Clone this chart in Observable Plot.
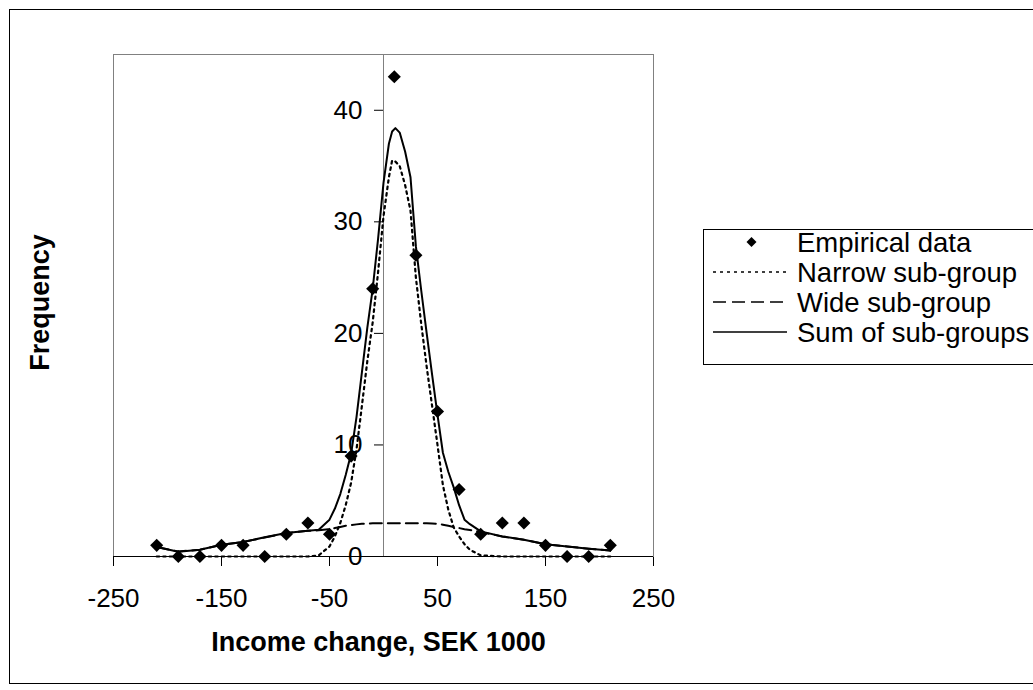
<!DOCTYPE html>
<html><head><meta charset="utf-8">
<script src="https://cdn.jsdelivr.net/npm/d3@7"></script>
<script src="https://cdn.jsdelivr.net/npm/@observablehq/plot@0.6"></script>
<style>
body{margin:0;background:#fff}
#chart{position:relative;width:1033px;height:690px;overflow:hidden}
</style>
</head><body><div id="chart"></div>
<script>
// Empirical data (diamonds)
const empX = [-210,-190,-170,-150,-130,-110,-90,-70,-50,-30,-10,10,30,50,70,90,110,130,150,170,190,210];
const empY = [1,0,0,1,1,0,2,3,2,9,24,43,27,13,6,2,3,3,1,0,0,1];

// Fitted curves
const curveX  = [-210,-190,-170,-150,-130,-110,-90,-70,-60,-50,-45,-40,-35,-30,-25,-20,-15,-10,-5,0,5,8,11,15,20,25,30,35,40,45,50,55,60,65,70,75,80,90,110,130,150,170,190,210];
const narrowY = [0,0,0,0,0,0,0,0,0.1,0.9,1.8,3.0,4.6,6.6,9.6,13.5,17.5,21.0,25.5,30.5,34.0,35.5,35.4,35.0,33.3,31.0,25.0,20.8,17.0,13.5,10.0,6.4,4.2,2.6,1.8,1.1,0.6,0.1,0,0,0,0,0,0];
const wideY   = [0.85,0.45,0.6,1.05,1.3,1.7,2.1,2.3,2.35,2.45,2.55,2.65,2.75,2.82,2.88,2.93,2.95,2.97,2.98,2.98,2.98,2.98,2.98,2.98,2.98,2.98,2.98,2.98,2.97,2.95,2.93,2.85,2.75,2.65,2.55,2.45,2.38,2.2,1.8,1.5,1.1,0.9,0.7,0.54];
const sumY    = [0.85,0.42,0.6,1.05,1.3,1.72,2.1,2.3,2.4,3.3,4.3,5.6,7.3,9.2,12.5,16.5,20.5,24.0,28.5,33.5,37.0,38.1,38.4,38.0,36.3,34.0,27.8,23.8,20.0,16.3,12.7,9.3,7.6,6.2,4.6,3.3,2.9,2.25,1.8,1.5,1.1,0.9,0.7,0.54];

const xTicks = [-250,-150,-50,50,150,250];
const yTicks = [0,10,20,30,40];
const seriesNames = ["Empirical data","Narrow sub-group","Wide sub-group","Sum of sub-groups"];
const xTitle = "Income change, SEK 1000";
const yTitle = "Frequency";

const emp = empX.map((x, i) => ({x, y: empY[i]}));
const curves = curveX.map((x, i) => ({x, narrow: narrowY[i], wide: wideY[i], sum: sumY[i]}));

const FONT = "'Liberation Sans', Arial, sans-serif";
const FS = 26;

const plot = Plot.plot({
  width: 1033,
  height: 690,
  marginLeft: 113,
  marginRight: 380,
  marginTop: 54,
  marginBottom: 134,
  style: {fontFamily: FONT, fontSize: FS + "px", background: "#fff", color: "#000"},
  x: {domain: [-250, 250], ticks: xTicks, tickSize: 10, tickPadding: 22, tickFormat: d => String(d), label: null, axis: "bottom"},
  y: {domain: [0, 45], axis: null},
  marks: [
    // outer chart border
    Plot.frame({stroke: "#000", insetLeft: -104, insetTop: -45, insetRight: -400, insetBottom: -127}),
    // plot area border
    Plot.frame({stroke: "#808080"}),
    // vertical axis at x = 0
    Plot.ruleX([0], {stroke: "#808080"}),
    // curves
    Plot.line(curves, {x: "x", y: "wide", stroke: "#000", strokeWidth: 2, strokeDasharray: "12,6"}),
    Plot.line(curves, {x: "x", y: "narrow", stroke: "#000", strokeWidth: 2.2, strokeDasharray: "2.5,4"}),
    Plot.line(curves, {x: "x", y: "sum", stroke: "#000", strokeWidth: 2}),
    // horizontal axis line
    Plot.ruleY([0], {stroke: "#000"}),
    // y ticks & labels on the x = 0 axis
    Plot.ruleY(yTicks, {y: d => d, x1: () => 0, x2: () => 0, insetRight: 9, stroke: "#000"}),
    Plot.text(yTicks, {x: () => 0, y: d => d, text: d => String(d), textAnchor: "end", dx: -21, fontSize: FS}),
    // empirical diamonds
    Plot.dot(emp, {x: "x", y: "y", symbol: "diamond2", r: 5.9, fill: "#000", stroke: "none"}),
    // axis titles
    Plot.text([xTitle], {text: d => d, frameAnchor: "bottom", lineAnchor: "middle", textAnchor: "middle", dx: -5, dy: 86, fontWeight: "bold", fontSize: 27}),
    Plot.text([yTitle], {text: d => d, frameAnchor: "left", lineAnchor: "middle", textAnchor: "middle", dx: -73, dy: -3, rotate: -90, fontWeight: "bold", fontSize: 27})
  ]
});

// Legend
const svg = d3.select(plot);
const LFS = 27.5;
const lg = svg.append("g").attr("font-family", FONT).attr("font-size", LFS).attr("text-anchor", "start");
const boxTop = 229, boxH = 135, rowH = 30, firstRow = 242;
lg.append("rect").attr("x", 703.5).attr("y", boxTop + 0.5).attr("width", 340).attr("height", boxH)
  .attr("fill", "none").attr("stroke", "#000");
const styles = [
  {type: "dot"},
  {type: "line", dash: "3,4", w: 1.5},
  {type: "line", dash: "13,6", w: 1.5},
  {type: "line", dash: null, w: 1.5}
];
seriesNames.forEach((name, i) => {
  const cy = firstRow + i * rowH;
  const s = styles[i];
  if (s.type === "dot") {
    lg.append("path").attr("transform", `translate(751.5,${cy})`)
      .attr("d", d3.symbol(d3.symbolDiamond2, 4.5 * 4.5 * Math.PI)()).attr("fill", "#000");
  } else {
    const l = lg.append("line").attr("x1", 713).attr("x2", 787).attr("y1", cy).attr("y2", cy)
      .attr("stroke", "#000").attr("stroke-width", s.w);
    if (s.dash) l.attr("stroke-dasharray", s.dash);
  }
  lg.append("text").attr("x", 797).attr("y", cy).attr("dy", "0.35em").attr("text-anchor", "start").text(name);
});

document.getElementById("chart").appendChild(plot);
</script>
</body></html>
